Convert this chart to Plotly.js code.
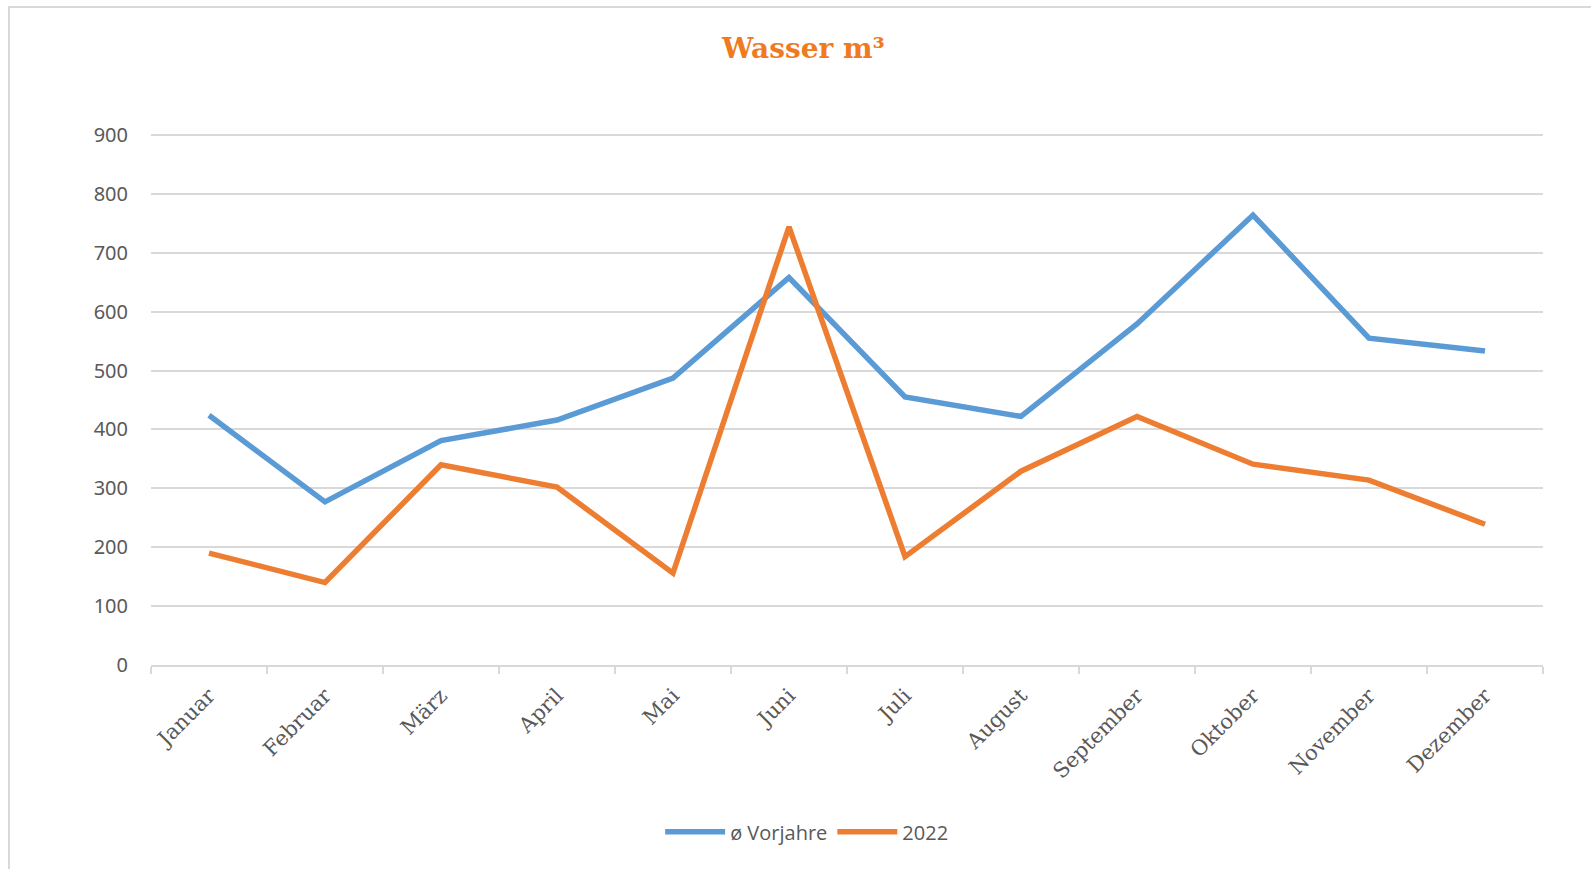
<!DOCTYPE html>
<html>
<head>
<meta charset="utf-8">
<script src="https://cdn.plot.ly/plotly-3.0.1.min.js"></script>
<style>
html,body{margin:0;padding:0;background:#fff;}
#chart{width:1591px;height:869px;}
#frame{position:absolute;left:8px;top:6px;width:1600px;height:861px;border:2px solid #d9d9d9;pointer-events:none;}
</style>
</head>
<body>
<div id="chart"></div>
<div id="frame"></div>
<script>
const months = ["Januar","Februar","März","April","Mai","Juni","Juli","August","September","Oktober","November","Dezember"];
const vorjahre = [424, 277, 381, 416, 487, 658, 455, 422, 579, 764, 555, 533];
const y2022 = [190, 140, 340, 302, 156, 744, 184, 329, 422, 341, 314, 239];
const yTicks = [0,100,200,300,400,500,600,700,800,900];

const traces = [
  {x: months, y: vorjahre, type: 'scatter', mode: 'lines', name: 'ø Vorjahre',
   line: {color: '#5B9BD5', width: 5.5}},
  {x: months, y: y2022, type: 'scatter', mode: 'lines', name: '2022',
   line: {color: '#ED7D31', width: 5.5}}
];

const layout = {
  width: 1591, height: 869,
  margin: {l: 151, r: 48, t: 132, b: 204},
  paper_bgcolor: '#fff', plot_bgcolor: '#fff',
  title: {text: 'Wasser m³', x: 0.505, xref: 'container', y: 0.945, yref: 'container', yanchor: 'middle',
    font: {family: 'DejaVu Serif', size: 28, color: '#F07A1E', weight: 600}},
  xaxis: {
    type: 'category', tickvals: months, ticktext: months, range: [-0.5, 11.5],
    showgrid: false, showline: true, linecolor: '#d9d9d9', linewidth: 2,
    ticks: 'outside', tickson: 'boundaries', ticklen: 7, tickcolor: '#d9d9d9', tickwidth: 2,
    tickangle: -45, ticklabelstandoff: 8,
    tickfont: {family: 'DejaVu Serif', size: 21, color: '#595959'},
    zeroline: false, fixedrange: true
  },
  yaxis: {
    range: [0, 905], tickvals: yTicks, ticktext: yTicks.map(String),
    showgrid: true, gridcolor: '#d9d9d9', gridwidth: 2,
    showline: false, zeroline: false, ticks: '', ticklabelstandoff: 22,
    tickfont: {family: 'Noto Sans', size: 20, color: '#595959'}, fixedrange: true
  },
  showlegend: true,
  legend: {orientation: 'h', x: 0.471, xanchor: 'center', y: -0.313, yanchor: 'middle',
    font: {family: 'Open Sans', size: 20, color: '#595959'}, itemwidth: 60, traceorder: 'normal'}
};

Plotly.newPlot('chart', traces, layout, {displayModeBar: false, staticPlot: true});
</script>
</body>
</html>
